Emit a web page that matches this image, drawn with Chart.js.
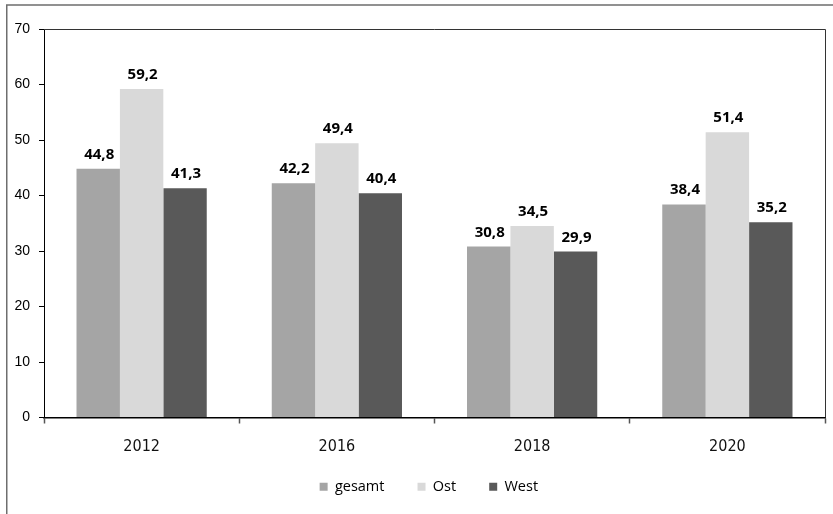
<!DOCTYPE html>
<html>
<head>
<meta charset="utf-8">
<script src="https://cdn.jsdelivr.net/npm/chart.js@4"></script>
<style>
  html, body { margin: 0; padding: 0; background: #fff; }
  #wrap { width: 833px; height: 514px; position: relative; }
</style>
</head>
<body>
<div id="wrap"><canvas id="chart"></canvas></div>
<script>
// data
const years = ['2012', '2016', '2018', '2020'];
const seriesNames = ['gesamt', 'Ost', 'West'];
const gesamt = [44.8, 42.2, 30.8, 38.4];
const ost = [59.2, 49.4, 34.5, 51.4];
const west = [41.3, 40.4, 29.9, 35.2];
const yMax = 70;
const yStep = 10;

const colors = ['#a5a5a5', '#d9d9d9', '#595959'];
const fmt = v => v.toFixed(1).replace('.', ',');

// outer frame + top/right lines of the plot box
const framePlugin = {
    id: 'frame',
    beforeDraw(chart) {
        const ctx = chart.ctx;
        ctx.save();
        ctx.strokeStyle = '#6e6e6e';
        ctx.lineWidth = 1.5;
        ctx.strokeRect(6.75, 5, 1000, 1000);
        ctx.restore();
    },
    afterDraw(chart) {
        const { ctx, chartArea: a } = chart;
        ctx.save();
        ctx.strokeStyle = '#333';
        ctx.lineWidth = 1;
        ctx.beginPath();
        ctx.moveTo(a.left, a.top + 0.5);
        ctx.lineTo(a.right + 0.5, a.top + 0.5);
        ctx.lineTo(a.right + 0.5, a.bottom);
        ctx.stroke();
        ctx.restore();
    }
};

// value labels above the bars
const valueLabels = {
    id: 'valueLabels',
    afterDatasetsDraw(chart) {
        const ctx = chart.ctx;
        ctx.save();
        ctx.font = "bold 15px 'Open Sans'";
        ctx.fillStyle = '#000';
        ctx.textAlign = 'center';
        ctx.textBaseline = 'alphabetic';
        chart.data.datasets.forEach((ds, i) => {
            chart.getDatasetMeta(i).data.forEach((bar, j) => {
                ctx.fillText(fmt(ds.data[j]), bar.x + 1, bar.y - 10);
            });
        });
        ctx.restore();
    }
};

const series = [gesamt, ost, west];

new Chart(document.getElementById('chart'), {
    type: 'bar',
    data: {
        labels: years,
        datasets: seriesNames.map((name, i) => ({
            label: name,
            data: series[i],
            backgroundColor: colors[i],
            borderWidth: 0,
            categoryPercentage: 0.667,
            barPercentage: 1.0
        }))
    },
    options: {
        responsive: true,
        maintainAspectRatio: false,
        animation: false,
        layout: { padding: { top: 29, right: 8, left: 0, bottom: 10 } },
        plugins: {
            tooltip: { enabled: false },
            legend: {
                position: 'bottom',
                fullSize: false,
                labels: {
                    boxWidth: 8,
                    boxHeight: 8,
                    padding: 18,
                    color: '#000',
                    font: { family: "'Open Sans'", size: 14.5 },
                    generateLabels(chart) {
                        const items = Chart.defaults.plugins.legend.labels.generateLabels(chart);
                        items.forEach((it, i) => {
                            it.text = it.text + (i < items.length - 1 ? '    ' : '   ');
                            it.lineWidth = 0;
                        });
                        return items;
                    }
                }
            }
        },
        scales: {
            x: {
                offset: true,
                grid: {
                    offset: true,
                    drawOnChartArea: false,
                    tickLength: 6,
                    tickColor: '#555',
                    tickWidth: 1.5
                },
                border: { color: '#000', width: 1.5 },
                ticks: {
                    color: '#111',
                    padding: 14,
                    font: { family: "'DejaVu Sans Condensed', 'DejaVu Sans', sans-serif", size: 16 }
                },
                afterFit(scale) { scale.height = 44; }
            },
            y: {
                min: 0,
                max: yMax,
                grid: {
                    drawOnChartArea: false,
                    tickLength: 5,
                    tickColor: '#000'
                },
                border: { color: '#000', width: 1 },
                ticks: {
                    stepSize: yStep,
                    color: '#000',
                    padding: 9,
                    font: { family: "'Liberation Sans'", size: 14 }
                },
                afterFit(scale) { scale.width = 44; }
            }
        }
    },
    plugins: [framePlugin, valueLabels]
});
</script>
</body>
</html>
